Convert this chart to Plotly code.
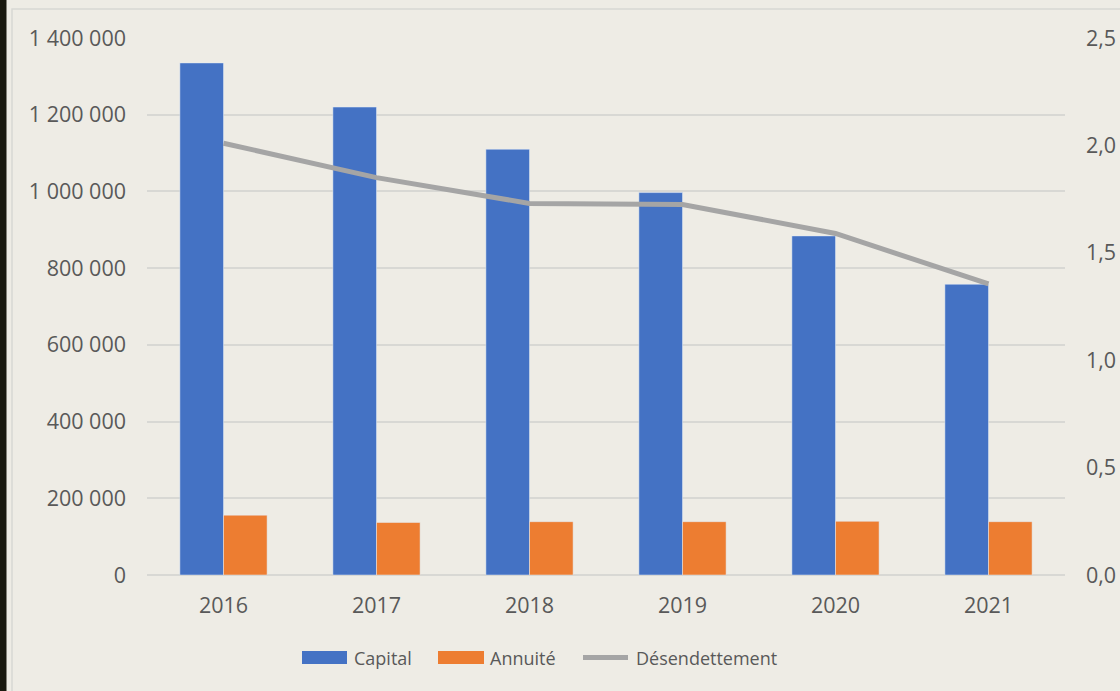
import plotly.graph_objects as go

years = ["2016", "2017", "2018", "2019", "2020", "2021"]
capital = [1335000, 1220000, 1110000, 997000, 884000, 758000]
annuite = [156000, 137000, 139000, 139000, 140000, 139000]
desendettement = [2.01, 1.85, 1.73, 1.725, 1.59, 1.355]

left_ticks = [0, 200000, 400000, 600000, 800000, 1000000, 1200000, 1400000]
right_ticks = [0, 0.5, 1.0, 1.5, 2.0, 2.5]

W, H = 1120, 691
L, R, T, B = 147, 55, 38, 116
PW, PH = W - L - R, H - T - B

BG = "#EEECE5"
TXT = "#595959"
GRID = "#D8D8D4"
BLUE = "#4472C4"
ORANGE = "#ED7D31"
GRAY = "#A5A5A5"
FONT = "Open Sans"
TICK_SIZE = 21.5


def px(x):
    return (x - L) / PW


def py(y):
    return (H - B - y) / PH


fig = go.Figure()
fig.add_trace(go.Bar(x=years, y=capital, name="Capital", marker_color=BLUE,
                     showlegend=False, hoverinfo="skip"))
fig.add_trace(go.Bar(x=years, y=annuite, name="Annuité", marker_color=ORANGE,
                     showlegend=False, hoverinfo="skip"))
fig.add_trace(go.Scatter(x=years, y=desendettement, name="Désendettement", yaxis="y2",
                         mode="lines", line=dict(color=GRAY, width=5),
                         showlegend=False, hoverinfo="skip"))

shapes = [
    # dark strip on the left
    dict(type="rect", xref="paper", yref="paper", x0=px(-5), x1=px(6.5), y0=py(-5), y1=py(H + 5),
         fillcolor="#1A1A10", line=dict(width=0), layer="below"),
    # chart frame
    dict(type="rect", xref="paper", yref="paper", x0=px(12), x1=px(W + 20), y0=py(H + 20), y1=py(9),
         fillcolor="rgba(0,0,0,0)", line=dict(color=GRID, width=1.5), layer="below"),
    # legend symbols
    dict(type="rect", xref="paper", yref="paper", x0=px(302), x1=px(347), y0=py(664), y1=py(651),
         fillcolor=BLUE, line=dict(width=0)),
    dict(type="rect", xref="paper", yref="paper", x0=px(438), x1=px(484), y0=py(664), y1=py(651),
         fillcolor=ORANGE, line=dict(width=0)),
    dict(type="line", xref="paper", yref="paper", x0=px(583), x1=px(628), y0=py(657.5), y1=py(657.5),
         line=dict(color=GRAY, width=5)),
]

annotations = []
for label, x in [("Capital", 352), ("Annuité", 488), ("Désendettement", 634)]:
    annotations.append(dict(text=label, xref="paper", yref="paper", x=px(x), y=py(657.5),
                            xanchor="left", yanchor="middle", showarrow=False,
                            font=dict(family=FONT, size=18, color=TXT)))

fig.update_layout(
    width=W, height=H,
    margin=dict(l=L, r=R, t=T, b=B, pad=0, autoexpand=False),
    paper_bgcolor=BG, plot_bgcolor=BG,
    separators=", ",
    barmode="group", bargap=0.43, bargroupgap=0,
    font=dict(family=FONT, size=TICK_SIZE, color=TXT),
    shapes=shapes, annotations=annotations,
    showlegend=False,
    xaxis=dict(type="category", showgrid=False, showline=False, zeroline=False,
               ticks="", ticklabelstandoff=15, automargin=False,
               tickfont=dict(family=FONT, size=TICK_SIZE, color=TXT)),
    yaxis=dict(range=[0, 1400000], tickvals=left_ticks, tickformat=",d",
               showgrid=True, gridcolor=GRID, gridwidth=1.5,
               zeroline=True, zerolinecolor=GRID, zerolinewidth=1.5,
               showline=False, ticks="", ticklabelstandoff=20, automargin=False,
               tickfont=dict(family=FONT, size=TICK_SIZE, color=TXT)),
    yaxis2=dict(range=[0, 2.5], tickvals=right_ticks, tickformat=".1f",
                overlaying="y", side="right", showgrid=False, zeroline=False,
                showline=False, ticks="", ticklabelstandoff=20, automargin=False,
                tickfont=dict(family=FONT, size=TICK_SIZE, color=TXT)),
)

fig.write_html(
    "out.html",
    config={"displayModeBar": False},
    post_script="document.body.style.margin='0';document.body.style.overflow='hidden';",
)
